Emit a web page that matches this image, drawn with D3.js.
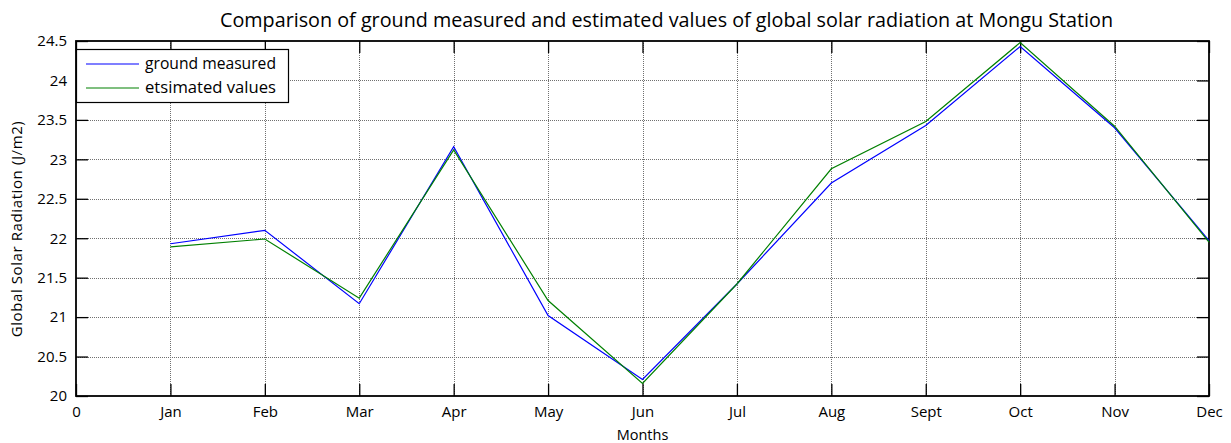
<!DOCTYPE html>
<html>
<head>
<meta charset="utf-8">
<script src="https://cdn.jsdelivr.net/npm/d3@7"></script>
<style>
  html, body { margin: 0; padding: 0; background: #fff; }
  svg { display: block; font-family: "Open Sans", "Lato", sans-serif; }
</style>
</head>
<body>
<svg id="chart" width="1231" height="443"></svg>
<script>
// Monthly global solar radiation at Mongu
const months = ["Jan", "Feb", "Mar", "Apr", "May", "Jun", "Jul", "Aug", "Sept", "Oct", "Nov", "Dec"];
const xTickLabels = ["0"].concat(months);
const measured  = [21.93, 22.10, 21.17, 23.16, 21.02, 20.21, 21.42, 22.70, 23.43, 24.43, 23.40, 21.97];
const estimated = [21.89, 21.99, 21.24, 23.12, 21.21, 20.16, 21.42, 22.88, 23.48, 24.48, 23.42, 21.95];
const yTicks = [20, 20.5, 21, 21.5, 22, 22.5, 23, 23.5, 24, 24.5];
const seriesNames = ["ground measured", "etsimated values"];
const seriesColors = ["#0000ff", "#008000"];

const svg = d3.select("#chart");
const margin = { left: 76, right: 22, top: 41, bottom: 47 };
const W = 1231, H = 443;
const x0 = margin.left, x1 = W - margin.right, y0 = H - margin.bottom, y1 = margin.top;

const x = d3.scaleLinear().domain([0, 12]).range([x0, x1]);
const y = d3.scaleLinear().domain([20, 24.5]).range([y0, y1]);

const fmtY = d => String(d);
const xVals = d3.range(0, 13);

// grid
const grid = svg.append("g").attr("stroke", "#707070").attr("stroke-width", 1)
  .attr("stroke-dasharray", "1,1").attr("shape-rendering", "crispEdges");
grid.selectAll(".gx").data(xVals.slice(1, 12)).join("line")
  .attr("x1", d => Math.round(x(d)) + 0.5).attr("x2", d => Math.round(x(d)) + 0.5)
  .attr("y1", y1).attr("y2", y0);
grid.selectAll(".gy").data(yTicks.slice(1, -1)).join("line")
  .attr("x1", x0).attr("x2", x1)
  .attr("y1", d => Math.round(y(d)) + 0.5).attr("y2", d => Math.round(y(d)) + 0.5);

// axes
const tickLen = 12;
const xAxisB = d3.axisBottom(x).tickValues(xVals).tickSize(-tickLen).tickPadding(10)
  .tickFormat((d, i) => xTickLabels[i]);
const xAxisT = d3.axisTop(x).tickValues(xVals).tickSize(-tickLen).tickFormat("");
const yAxisL = d3.axisLeft(y).tickValues(yTicks).tickSize(-tickLen).tickPadding(9).tickFormat(fmtY);
const yAxisR = d3.axisRight(y).tickValues(yTicks).tickSize(-tickLen).tickFormat("");

function styleAxis(g) {
  g.select(".domain").remove();
  g.selectAll("line").attr("stroke", "#000").attr("stroke-width", 1.3);
  g.selectAll("text").attr("fill", "#000").style("font-size", "15px")
    .style("font-family", "'Open Sans', 'Lato', sans-serif");
}
svg.append("g").attr("transform", `translate(0,${y0})`).call(xAxisB).call(styleAxis);
svg.append("g").attr("transform", `translate(0,${y1})`).call(xAxisT).call(styleAxis);
svg.append("g").attr("transform", `translate(${x0},0)`).call(yAxisL).call(styleAxis);
svg.append("g").attr("transform", `translate(${x1},0)`).call(yAxisR).call(styleAxis);

// box
svg.append("rect").attr("x", x0).attr("y", y1).attr("width", x1 - x0).attr("height", y0 - y1)
  .attr("fill", "none").attr("stroke", "#000").attr("stroke-width", 1.8);

// series lines
const line = d3.line().x((d, i) => x(i + 1)).y(d => y(d));
[measured, estimated].forEach((vals, k) => {
  svg.append("path").datum(vals).attr("d", line)
    .attr("fill", "none").attr("stroke", seriesColors[k]).attr("stroke-width", 1.2);
});

// legend
const lg = svg.append("g");
lg.append("rect").attr("x", x0 + 0.5).attr("y", 49.5).attr("width", 212).attr("height", 53)
  .attr("fill", "#fff").attr("stroke", "#000").attr("stroke-width", 1.2);
seriesNames.forEach((name, k) => {
  const ly = 64 + k * 24;
  lg.append("line").attr("x1", 86).attr("x2", 139).attr("y1", ly).attr("y2", ly)
    .attr("stroke", seriesColors[k]).attr("stroke-width", 1.2);
  lg.append("text").attr("x", 145).attr("y", ly).attr("dy", "0.32em")
    .attr("textLength", 131).attr("lengthAdjust", "spacingAndGlyphs")
    .style("font-size", "15.5px").text(name);
});

// titles
svg.append("text").attr("x", 220).attr("y", 27)
  .attr("textLength", 893).attr("lengthAdjust", "spacingAndGlyphs")
  .style("font-size", "20px").text("Comparison of ground measured and estimated values of global solar radiation at Mongu Station");
svg.append("text").attr("x", (x0 + x1) / 2).attr("y", 440).attr("text-anchor", "middle")
  .style("font-size", "14.5px").text("Months");
svg.append("text").attr("transform", `translate(22,229) rotate(-90)`)
  .attr("text-anchor", "middle").style("font-size", "15px").style("letter-spacing", "0.6px")
  .text("Global Solar Radiation (J/m2)");
</script>
</body>
</html>
